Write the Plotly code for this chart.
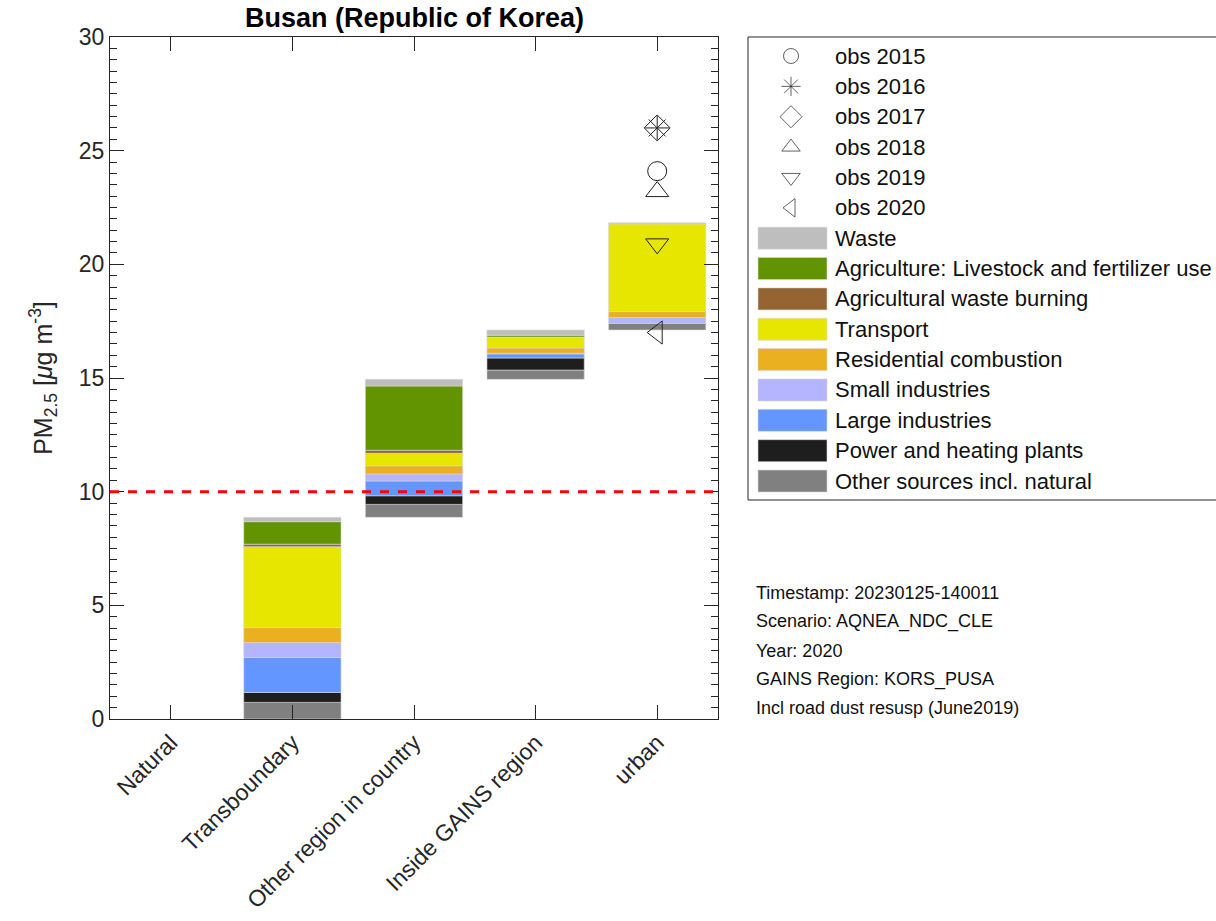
import numpy as np
import plotly.graph_objects as go

W, H = 1216, 921

categories = ["Natural", "Transboundary", "Other region in country", "Inside GAINS region", "urban"]

sectors = ["Other sources incl. natural", "Power and heating plants", "Large industries",
           "Small industries", "Residential combustion", "Transport",
           "Agricultural waste burning", "Agriculture: Livestock and fertilizer use", "Waste"]
sector_colors = ["#808080", "#1e1e1e", "#6496ff", "#b4b4ff", "#ebb020", "#e6e600",
                 "#966432", "#619400", "#bebebe"]

other_sources = [0.0, 0.73, 0.57, 0.41, 0.30]
power_heating = [0.0, 0.44, 0.38, 0.53, 0.00]
large_ind = [0.0, 1.54, 0.65, 0.18, 0.00]
small_ind = [0.0, 0.65, 0.31, 0.03, 0.25]
residential = [0.0, 0.66, 0.36, 0.23, 0.26]
transport = [0.0, 3.56, 0.55, 0.47, 3.86]
ag_waste_burning = [0.0, 0.11, 0.13, 0.01, 0.00]
agriculture = [0.0, 0.99, 2.83, 0.08, 0.00]
waste = [0.0, 0.19, 0.29, 0.23, 0.05]

obs_labels = ["obs 2015", "obs 2016", "obs 2017", "obs 2018", "obs 2019", "obs 2020"]
obs_values = [24.1, 26.0, 26.0, 23.2, 20.9, 17.0]
obs_symbols = ["circle-open", "asterisk-open", "diamond-open", "triangle-up-open",
               "triangle-down-open", "triangle-left-open"]

who_guideline = 10

info_lines = ["Timestamp: 20230125-140011", "Scenario: AQNEA_NDC_CLE", "Year: 2020",
              "GAINS Region: KORS_PUSA", "Incl road dust resusp (June2019)"]

series = [other_sources, power_heating, large_ind, small_ind, residential,
          transport, ag_waste_burning, agriculture, waste]

vals = np.array(series)  # sectors x categories
cat_tot = vals.sum(axis=0)
cat_start = np.concatenate([[0.0], np.cumsum(cat_tot)[:-1]])
within = np.vstack([np.zeros(vals.shape[1]), np.cumsum(vals, axis=0)[:-1]])
bases = cat_start + within

xpos = np.arange(1, len(categories) + 1)

# plot area in pixels
PL, PR, PT, PB = 110, 718, 37, 719


def px(x):
    return x / W


def py(y):
    return 1 - y / H


FONT = "Liberation Sans, Arial, sans-serif"
AX = "#262626"

fig = go.Figure()

for i, name in enumerate(sectors):
    edge_w = [0.6 if v > 0 else 0 for v in vals[i]]
    fig.add_trace(go.Bar(
        x=xpos, y=vals[i], base=bases[i], width=0.8, name=name,
        marker=dict(color=sector_colors[i], line=dict(color="#d8d8d8", width=edge_w)),
        showlegend=False,
    ))

for lab, v, s in zip(obs_labels, obs_values, obs_symbols):
    sz = 19 if "circle" in s else 20
    fig.add_trace(go.Scatter(
        x=[xpos[-1]], y=[v], mode="markers", name=lab, showlegend=False,
        marker=dict(symbol=s, size=sz, color="#222222", line=dict(color="#222222", width=1)),
    ))

# WHO guideline line
fig.add_shape(type="line", xref="x domain", yref="y", x0=0, x1=1, y0=who_guideline,
              y1=who_guideline, line=dict(color="#ff0000", width=3, dash="dash"))

# Custom legend
LX0, LY0, LY1 = 748, 37, 500
fig.add_shape(type="rect", xref="paper", yref="paper", x0=px(LX0), x1=px(W + 5),
              y0=py(LY1), y1=py(LY0), line=dict(color=AX, width=1), fillcolor="white",
              layer="below")
row0, drow = 56, 30.36
rows = [row0 + k * drow for k in range(len(obs_labels) + len(sectors))]
fig.add_trace(go.Scatter(
    x=[791] * len(obs_labels), y=rows[:len(obs_labels)], mode="markers",
    xaxis="x2", yaxis="y2", showlegend=False, hoverinfo="skip",
    marker=dict(symbol=obs_symbols, size=[15, 16, 17, 16, 16, 16], color="#222222",
                line=dict(color="#222222", width=1)),
))
for k, lab in enumerate(obs_labels):
    fig.add_annotation(x=px(833), y=py(rows[k]), xref="paper", yref="paper", text=lab,
                       showarrow=False, xanchor="left", yanchor="middle",
                       font=dict(family=FONT, size=22, color="#111111"))
legend_order = list(range(len(sectors)))[::-1]
for j, si in enumerate(legend_order):
    r = rows[len(obs_labels) + j]
    fig.add_shape(type="rect", xref="paper", yref="paper", x0=px(758), x1=px(827),
                  y0=py(r + 11), y1=py(r - 11), fillcolor=sector_colors[si],
                  line=dict(color="#d8d8d8", width=0.6))
    fig.add_annotation(x=px(833), y=py(r), xref="paper", yref="paper", text=sectors[si],
                       showarrow=False, xanchor="left", yanchor="middle",
                       font=dict(family=FONT, size=22, color="#111111"))

for k, t in enumerate(info_lines):
    fig.add_annotation(x=px(754), y=py(593 + k * 28.8), xref="paper", yref="paper", text=t,
                       showarrow=False, xanchor="left", yanchor="middle",
                       font=dict(family=FONT, size=18, color="#111111"))

fig.add_annotation(x=px(414), y=py(18), xref="paper", yref="paper",
                   text="<b>Busan (Republic of Korea)</b>", showarrow=False,
                   xanchor="center", yanchor="middle",
                   font=dict(family=FONT, size=27, color="#000000"))

fig.update_layout(
    width=W, height=H, margin=dict(l=0, r=0, t=0, b=0),
    paper_bgcolor="white", plot_bgcolor="white", barmode="overlay",
    font=dict(family=FONT, color="#262626"),
    xaxis=dict(domain=[px(PL), px(PR)], range=[0.5, 5.5], tickmode="array",
               tickvals=list(xpos), ticktext=categories, tickangle=-45,
               ticks="inside", ticklen=14, tickcolor=AX, tickwidth=1,
               showline=True, linecolor=AX, linewidth=1, mirror="ticks",
               showgrid=False, zeroline=False, automargin=False,
               tickfont=dict(size=23, color="#262626")),
    yaxis=dict(domain=[py(PB), py(PT)], range=[0, 30], tickmode="array",
               tickvals=[0, 5, 10, 15, 20, 25, 30], ticks="inside", ticklen=14,
               tickcolor=AX, tickwidth=1, showline=True, linecolor=AX, linewidth=1,
               mirror="ticks", showgrid=False, zeroline=False, automargin=False,
               minor=dict(dtick=0.5, ticks="inside", ticklen=7, tickcolor=AX, showgrid=False),
               tickfont=dict(size=23, color="#262626"),
               title=dict(text="PM<sub>2.5</sub> [<i>μ</i>g m<sup>-3</sup>]",
                          font=dict(size=25, color="#262626"), standoff=19)),
    xaxis2=dict(domain=[px(LX0), 1], range=[LX0, W], visible=False, fixedrange=True,
                anchor="y2"),
    yaxis2=dict(domain=[py(LY1), py(LY0)], range=[LY1, LY0], visible=False, fixedrange=True,
                anchor="x2"),
)

fig.write_html("out.html")
